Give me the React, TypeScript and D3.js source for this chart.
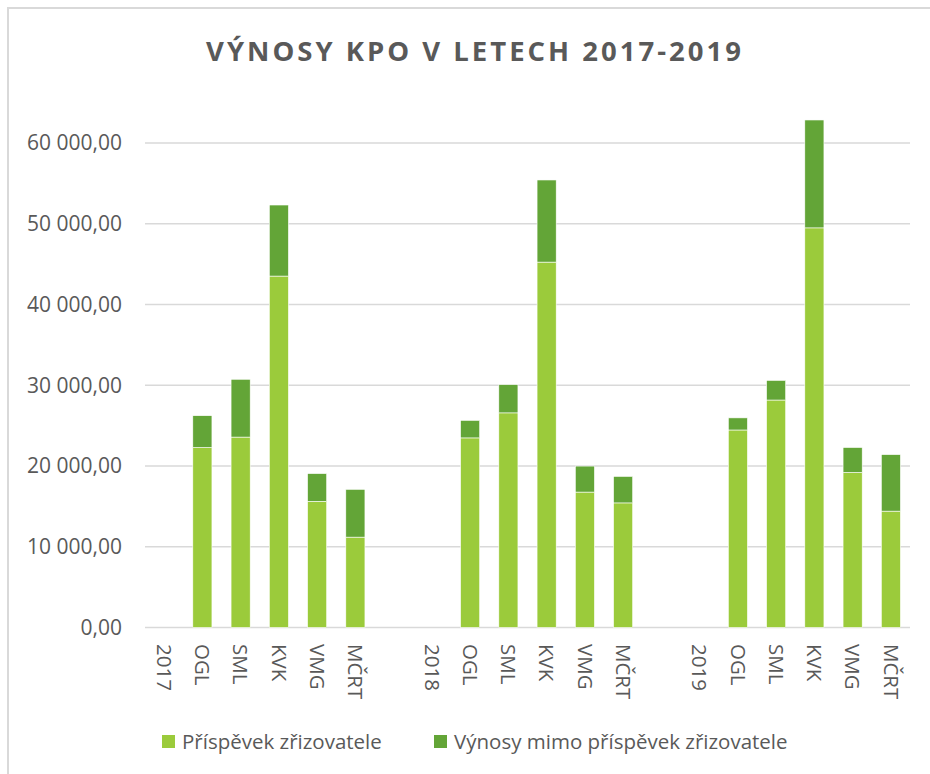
import React from "react";
import * as d3 from "d3";

const categories = ["2017", "OGL", "SML", "KVK", "VMG", "MČRT", "", "2018", "OGL", "SML", "KVK", "VMG", "MČRT", "", "2019", "OGL", "SML", "KVK", "VMG", "MČRT"];
const prispevek = [null, 22290, 23580, 43520, 15620, 11190, null, null, 23480, 26580, 45250, 16770, 15430, null, null, 24460, 28170, 49490, 19200, 14410];
const vynosyMimo = [null, 3940, 7160, 8800, 3440, 5920, null, null, 2170, 3500, 10170, 3220, 3280, null, null, 1500, 2430, 13360, 3090, 7000];
const yTicks = [0, 10000, 20000, 30000, 40000, 50000, 60000];
const seriesNames = ["Příspěvek zřizovatele", "Výnosy mimo příspěvek zřizovatele"];
const colors = ["#9BCB3B", "#63A537"];

const W = 930, H = 774;
const left = 145, right = 910, y0 = 627.5, yPer10k = 80.75;
const font = "'Open Sans', sans-serif";
const txt = "#595959";

const locale = d3.formatLocale({ decimal: ",", thousands: " ", grouping: [3], currency: ["", ""] });
const fmt = locale.format(",.2f");

export default function App() {
  const x = d3.scaleBand<number>().domain(categories.map((_, i) => i)).range([left, right]).paddingInner(0.5).paddingOuter(0.25);
  const y = d3.scaleLinear().domain([0, 65000]).range([y0, y0 - 6.5 * yPer10k]);
  const rows = categories.map((c, i) => ({ i, a: prispevek[i] ?? 0, b: vynosyMimo[i] ?? 0 }));
  const stack = d3.stack<any>().keys(["a", "b"])(rows);

  return (
    <div style={{ position: "absolute", left: 0, top: 0 }}>
      <svg width={W} height={H} style={{ display: "block", background: "#fff" }}>
        <rect x={8} y={8} width={W + 20} height={H + 20} fill="#fff" stroke="#D9D9D9" strokeWidth={2} />
        <text x={475} y={61} textAnchor="middle" fontFamily={font} fontWeight={700} fontSize={27.5} letterSpacing={3} fill={txt}>
          VÝNOSY KPO V LETECH 2017-2019
        </text>
        {yTicks.map((t) => (
          <g key={t}>
            <line x1={left} x2={right} y1={y(t)} y2={y(t)} stroke="#D9D9D9" strokeWidth={1.5} />
            <text x={122} y={y(t)} dy="0.35em" textAnchor="end" fontFamily={font} fontSize={21} fill={txt}>
              {fmt(t)}
            </text>
          </g>
        ))}
        {stack.map((s, si) => (
          <g key={si} fill={colors[si]}>
            {s.map((d, j) =>
              d[1] - d[0] > 0 ? (
                <rect key={j} x={x(j)!} width={x.bandwidth()} y={y(d[1])} height={y(d[0]) - y(d[1])} stroke="#fff" strokeWidth={0.6} />
              ) : null
            )}
          </g>
        ))}
        {categories.map((c, i) => (
          <text key={i} transform={`translate(${x(i)! + x.bandwidth() / 2},644) rotate(90)`} dy="0.35em" fontFamily={font} fontSize={20.5} fill={txt}>
            {c}
          </text>
        ))}
        {seriesNames.map((n, i) => {
          const lx = i === 0 ? 162 : 434;
          return (
            <g key={n}>
              <rect x={lx} y={735} width={13} height={13} fill={colors[i]} />
              <text x={lx + 20} y={749} fontFamily={font} fontSize={20.5} fill={txt}>
                {n}
              </text>
            </g>
          );
        })}
      </svg>
    </div>
  );
}
